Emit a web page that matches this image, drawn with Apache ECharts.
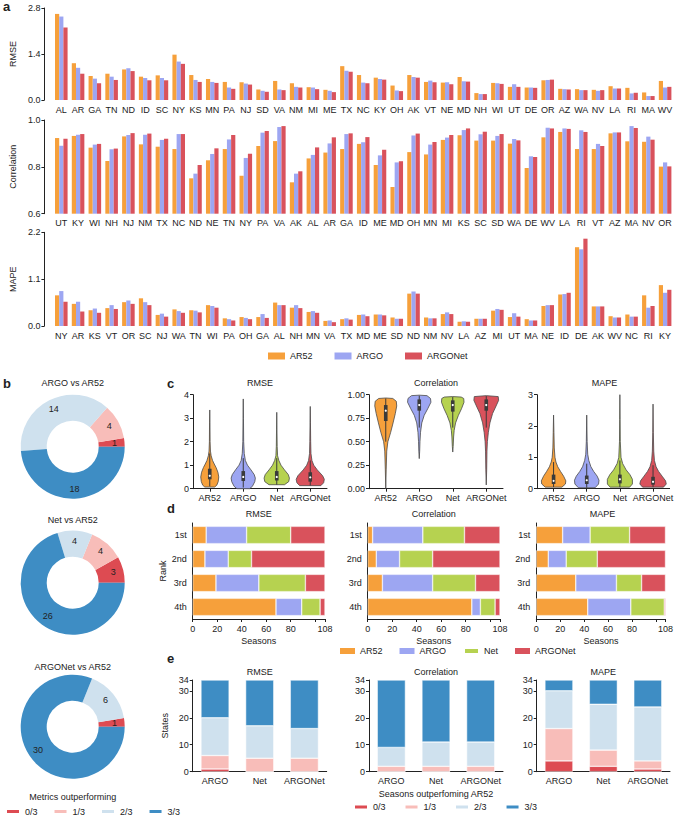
<!DOCTYPE html>
<html><head><meta charset="utf-8">
<script src="https://cdn.jsdelivr.net/npm/echarts@6/dist/echarts.min.js"></script>
<style>html,body{margin:0;padding:0;background:#fff}#c{width:676px;height:817px}</style>
</head><body><div id="c"></div>
<script>
// ---------- DATA ----------
const methods = ['AR52','ARGO','Net','ARGONet'];
const outcomeLevels = ['0/3','1/3','2/3','3/3'];

// panel a
const statesRMSE = ['AL','AR','GA','TN','ND','ID','SC','NY','KS','MN','PA','NJ','SD','VA','NM','MI','ME','TX','NC','KY','OH','AK','VT','NE','MD','NH','WI','UT','DE','OR','AZ','WA','NV','LA','RI','MA','WV'];
const rmseAR52    = [2.62,1.12,0.73,0.80,0.93,0.71,0.75,1.38,0.76,0.64,0.55,0.54,0.32,0.58,0.51,0.39,0.31,1.03,0.76,0.68,0.44,0.76,0.55,0.53,0.70,0.21,0.52,0.40,0.38,0.60,0.34,0.33,0.31,0.42,0.37,0.23,0.58];
const rmseARGO    = [2.54,0.98,0.65,0.71,0.97,0.67,0.67,1.17,0.61,0.55,0.38,0.50,0.28,0.32,0.40,0.38,0.28,0.89,0.53,0.64,0.29,0.70,0.59,0.54,0.57,0.18,0.51,0.48,0.38,0.61,0.33,0.30,0.28,0.35,0.20,0.12,0.38];
const rmseARGONet = [2.21,0.80,0.51,0.61,0.88,0.60,0.60,1.10,0.55,0.52,0.34,0.47,0.25,0.30,0.38,0.33,0.24,0.86,0.51,0.62,0.27,0.68,0.54,0.48,0.56,0.18,0.49,0.40,0.37,0.62,0.32,0.30,0.30,0.35,0.22,0.12,0.40];

const statesCorr = ['UT','KY','WI','NH','NJ','NM','TX','NC','ND','NE','TN','NY','PA','VA','AK','AL','AR','GA','ID','ME','MD','OH','MN','MI','KS','SC','SD','WA','DE','WV','LA','RI','VT','AZ','MA','NV','OR'];
const corrAR52    = [0.923,0.932,0.882,0.825,0.930,0.896,0.886,0.876,0.751,0.828,0.876,0.762,0.889,0.910,0.734,0.836,0.861,0.876,0.898,0.808,0.714,0.863,0.853,0.915,0.935,0.912,0.912,0.899,0.795,0.926,0.949,0.876,0.876,0.943,0.909,0.907,0.801];
const corrARGO    = [0.890,0.937,0.895,0.875,0.936,0.937,0.915,0.940,0.771,0.855,0.917,0.838,0.946,0.970,0.771,0.851,0.900,0.940,0.905,0.849,0.819,0.934,0.895,0.925,0.957,0.939,0.932,0.919,0.845,0.967,0.964,0.956,0.898,0.947,0.974,0.929,0.819];
const corrARGONet = [0.920,0.940,0.898,0.878,0.944,0.942,0.920,0.940,0.808,0.879,0.936,0.856,0.953,0.974,0.781,0.883,0.926,0.943,0.927,0.873,0.824,0.942,0.906,0.936,0.964,0.950,0.940,0.913,0.842,0.964,0.962,0.949,0.889,0.947,0.966,0.916,0.802];

const statesMAPE = ['NY','AR','KS','VT','OR','SC','NJ','WA','TN','WI','PA','OH','GA','AL','NH','MN','VA','TX','MD','ME','SD','ND','NM','NV','LA','AZ','MI','UT','MA','NE','ID','DE','AK','WV','NC','RI','KY'];
const mapeAR52    = [0.72,0.52,0.37,0.42,0.56,0.65,0.26,0.39,0.37,0.49,0.18,0.21,0.21,0.55,0.43,0.33,0.12,0.16,0.26,0.27,0.20,0.76,0.20,0.28,0.10,0.17,0.36,0.21,0.16,0.47,0.74,1.85,0.46,0.23,0.27,0.72,0.96];
const mapeARGO    = [0.82,0.57,0.41,0.49,0.60,0.56,0.29,0.35,0.36,0.47,0.16,0.19,0.28,0.49,0.49,0.35,0.13,0.18,0.27,0.27,0.17,0.81,0.18,0.32,0.11,0.17,0.40,0.30,0.13,0.49,0.75,1.80,0.46,0.20,0.22,0.43,0.78];
const mapeARGONet = [0.57,0.34,0.31,0.40,0.52,0.49,0.22,0.31,0.32,0.43,0.13,0.16,0.19,0.49,0.42,0.31,0.09,0.15,0.23,0.25,0.17,0.76,0.18,0.28,0.10,0.17,0.38,0.22,0.13,0.49,0.78,2.05,0.46,0.20,0.22,0.47,0.85];

// panel b (counts of states per outcome level 0/3..3/3)
const donutARGO    = [1,4,14,18];
const donutNet     = [3,4,4,26];
const donutARGONet = [1,0,6,30];

// panel c violin profiles: [value, relative half-width], per method
const violinRMSE = [
  [[0.07,0],[0.07,0.35],[0.15,0.5],[0.3,0.6],[0.5,0.64],[0.7,0.58],[0.9,0.45],[1.05,0.32],[1.2,0.2],[1.4,0.1],[1.6,0.05],[2.0,0.025],[2.8,0.015],[3.35,0]],
  [[0.0,0],[0.0,0.45],[0.1,0.65],[0.3,0.82],[0.45,0.86],[0.6,0.78],[0.8,0.55],[1.0,0.3],[1.2,0.15],[1.5,0.07],[2.0,0.03],[3.0,0.015],[3.82,0]],
  [[0.17,0],[0.17,0.55],[0.3,0.85],[0.45,0.9],[0.6,0.82],[0.8,0.55],[1.0,0.3],[1.2,0.15],[1.4,0.06],[1.8,0.03],[2.5,0.015],[3.25,0]],
  [[0.13,0],[0.13,0.75],[0.25,0.95],[0.4,1.0],[0.55,0.88],[0.8,0.5],[1.0,0.25],[1.2,0.12],[1.5,0.05],[2.0,0.03],[2.8,0.015],[3.5,0]]
];
const violinCorr = [
  [[0.0,0],[0.2,0.03],[0.4,0.07],[0.5,0.15],[0.6,0.35],[0.7,0.52],[0.8,0.68],[0.88,0.78],[0.93,0.75],[0.96,0.5],[0.965,0]],
  [[0.32,0],[0.4,0.03],[0.5,0.05],[0.6,0.09],[0.7,0.18],[0.78,0.35],[0.85,0.6],[0.92,0.83],[0.96,0.8],[0.99,0.55],[0.995,0]],
  [[0.39,0],[0.45,0.03],[0.55,0.06],[0.62,0.1],[0.7,0.2],[0.78,0.4],[0.85,0.62],[0.92,0.8],[0.96,0.78],[0.975,0.6],[0.98,0]],
  [[0.04,0],[0.2,0.03],[0.4,0.05],[0.5,0.08],[0.6,0.15],[0.7,0.26],[0.8,0.45],[0.88,0.7],[0.94,0.88],[0.98,0.85],[0.99,0]]
];
const violinMAPE = [
  [[0.05,0],[0.05,0.6],[0.15,0.85],[0.25,0.88],[0.4,0.72],[0.55,0.5],[0.7,0.3],[0.85,0.17],[1.0,0.1],[1.3,0.05],[1.8,0.025],[2.35,0]],
  [[0.03,0],[0.03,0.6],[0.15,0.85],[0.27,0.88],[0.4,0.75],[0.55,0.5],[0.7,0.3],[0.9,0.15],[1.1,0.07],[1.5,0.03],[2.35,0]],
  [[0.05,0],[0.05,0.7],[0.15,0.9],[0.3,0.9],[0.45,0.72],[0.6,0.45],[0.8,0.2],[1.0,0.08],[1.5,0.03],[2.2,0.015],[3.0,0]],
  [[0.05,0],[0.05,0.75],[0.15,0.95],[0.25,0.9],[0.4,0.65],[0.55,0.4],[0.7,0.22],[0.9,0.1],[1.2,0.05],[1.8,0.02],[2.7,0]]
];
// box stats: [whiskerLow, q1, median, q3, whiskerHigh]
const boxRMSE = [[0.1,0.4,0.55,0.85,1.5],[0.05,0.33,0.5,0.75,1.3],[0.17,0.35,0.5,0.75,1.3],[0.13,0.3,0.48,0.7,1.2]];
const boxCorr = [[0.5,0.72,0.83,0.89,0.96],[0.65,0.83,0.89,0.95,0.99],[0.65,0.82,0.89,0.94,0.975],[0.65,0.83,0.89,0.95,0.985]];
const boxMAPE = [[0.05,0.15,0.25,0.45,0.85],[0.03,0.15,0.27,0.42,0.8],[0.05,0.17,0.3,0.45,0.9],[0.05,0.13,0.22,0.38,0.75]];

// panel d: seasons per rank (1st..4th), one row per method
const ranks = ['1st','2nd','3rd','4th'];
const rankRMSE = [[11,10,19,68],[33,19,35,21],[36,19,38,15],[28,60,16,4]];
const rankCorr = [[4,7,12,85],[41,19,41,7],[34,27,35,12],[29,55,20,4]];
const rankMAPE = [[22,10,33,43],[23,15,34,36],[33,26,21,28],[30,57,20,1]];
const seasonTicks = [0,20,40,60,80,100,108];
const seasonLabels = [0,20,40,60,80,108];

// panel e: states per outcome level (rows 0/3..3/3), columns ARGO, Net, ARGONet
const eMethods = ['ARGO','Net','ARGONet'];
const stateRMSE = [[1,0,0],[5,5,5],[14,12,11],[14,17,18]];
const stateCorr = [[0,0,0],[2,2,2],[7,9,9],[25,23,23]];
const stateMAPE = [[4,2,1],[12,6,3],[14,17,20],[4,9,10]];
const stateTicks = [0,10,20,30,34];

// ---------- STYLE ----------
const FONT = '"Liberation Sans", Arial, Helvetica, sans-serif';
const COL = {AR52:'#F6A03B', ARGO:'#9DA6F2', Net:'#B6D250', ARGONet:'#D9525C'};
const OUTC = ['#DD4B52','#F8BDB9','#CFE1EE','#3E8DC4'];
const TXT = '#222';
const lbl = {fontSize:9, color:TXT, fontFamily:FONT};
const axLine = {show:true, lineStyle:{color:'#222', width:1}};
const axTick = {show:true, length:3, lineStyle:{color:'#222', width:1}};

const grid = [], xAxis = [], yAxis = [], series = [], graphic = [];

function txt(text, x, y, size, bold, align, rot){
  return {type:'text', x:x, y:y, rotation: rot||0, silent:true,
    style:{text:text, fill:TXT, font:(bold?'bold ':'')+(size||9)+'px '+FONT,
      textAlign:align||'center', textVerticalAlign:'middle'}};
}

// ---------- PANEL a ----------
const aPanels = [
  {states:statesRMSE, vals:[rmseAR52,rmseARGO,rmseARGONet], top:8, h:92, min:0, max:2.8, iv:1.4, name:'RMSE', dec:1},
  {states:statesCorr, vals:[corrAR52,corrARGO,corrARGONet], top:120, h:93.7, min:0.6, max:1.0, iv:0.2, name:'Correlation', dec:1},
  {states:statesMAPE, vals:[mapeAR52,mapeARGO,mapeARGONet], top:232.3, h:93.7, min:0, max:2.2, iv:1.1, name:'MAPE', dec:1}
];
const aNames = ['AR52','ARGO','ARGONet'];
aPanels.forEach((p,k)=>{
  const gi = grid.length;
  grid.push({left:48.5, top:p.top, width:625, height:p.h});
  xAxis.push({type:'category', gridIndex:gi, data:p.states, axisLine:{show:false}, axisTick:{show:false},
    axisLabel:Object.assign({interval:0, margin:5}, lbl)});
  yAxis.push({type:'value', gridIndex:gi, min:p.min, max:p.max, interval:p.iv, offset:8.5,
    axisLine:axLine, axisTick:axTick, splitLine:{show:false},
    axisLabel:Object.assign({formatter:v=>v.toFixed(p.dec), margin:4}, lbl),
    name:p.name, nameLocation:'middle', nameGap:22, nameTextStyle:lbl});
  p.vals.forEach((arr,j)=>{
    series.push({type:'bar', name:aNames[j], xAxisIndex:gi, yAxisIndex:gi, data:arr,
      barGap:'0%', barCategoryGap:'25%', itemStyle:{color:COL[aNames[j]]}, emphasis:{disabled:true}});
  });
});

// ---------- PANEL b ----------
const bPanels = [
  {title:'ARGO vs AR52', data:donutARGO, cy:446.7, ty:383},
  {title:'Net vs AR52', data:donutNet, cy:582.7, ty:520},
  {title:'ARGONet vs AR52', data:donutARGONet, cy:726.7, ty:667}
];
bPanels.forEach(p=>{
  series.push({type:'pie', center:[72.7,p.cy], radius:[26,52], startAngle:0, clockwise:false,
    avoidLabelOverlap:false, emphasis:{disabled:true},
    label:{show:true, position:'inside', fontSize:9, color:TXT, fontFamily:FONT,
      formatter:q=>q.value? String(q.value):''},
    labelLine:{show:false},
    data:p.data.map((v,i)=>({name:outcomeLevels[i], value:v, itemStyle:{color:OUTC[i]}}))});
  graphic.push(txt(p.title, 72.7, p.ty, 9));
});
graphic.push(txt('Metrics outperforming', 72.7, 797, 9));

// ---------- PANEL c ----------
function violinRender(profiles, boxes, color){
  return function(params, api){
    const i = api.value(0);
    const prof = profiles[i], b = boxes[i];
    const band = api.size([1,0])[0];
    const hw = band*0.42;
    const cx = api.coord([i,0])[0];
    const yc = v => api.coord([i,v])[1];
    const pts = prof.map(p=>[cx+p[1]*hw, yc(p[0])])
      .concat(prof.slice().reverse().map(p=>[cx-p[1]*hw, yc(p[0])]));
    return {type:'group', children:[
      {type:'polygon', shape:{points:pts}, style:{fill:color[i], stroke:'#4a4a4a', lineWidth:0.8}},
      {type:'line', shape:{x1:cx,y1:yc(b[0]),x2:cx,y2:yc(b[4])}, style:{stroke:'#3a3a3a', lineWidth:1}},
      {type:'rect', shape:{x:cx-1.8, y:yc(b[3]), width:3.6, height:yc(b[1])-yc(b[3])}, style:{fill:'#3a3a3a'}},
      {type:'circle', shape:{cx:cx, cy:yc(b[2]), r:1.1}, style:{fill:'#fff'}}
    ]};
  };
}
const cPanels = [
  {title:'RMSE', left:193, w:134, prof:violinRMSE, box:boxRMSE, max:4, iv:1, dec:0},
  {title:'Correlation', left:369, w:134, prof:violinCorr, box:boxCorr, max:1, iv:0.25, dec:2},
  {title:'MAPE', left:537, w:135, prof:violinMAPE, box:boxMAPE, max:3, iv:1, dec:0}
];
const methodColors = methods.map(m=>COL[m]);
cPanels.forEach(p=>{
  const gi = grid.length;
  grid.push({left:p.left, top:394.7, width:p.w, height:94});
  xAxis.push({type:'category', gridIndex:gi, data:methods, axisLine:axLine,
    axisTick:Object.assign({alignWithLabel:true}, axTick), axisLabel:Object.assign({margin:5, interval:0}, lbl)});
  yAxis.push({type:'value', gridIndex:gi, min:0, max:p.max, interval:p.iv, axisLine:axLine, axisTick:axTick,
    splitLine:{show:false}, axisLabel:Object.assign({formatter:v=>v.toFixed(p.dec), margin:4}, lbl)});
  series.push({type:'custom', xAxisIndex:gi, yAxisIndex:gi, clip:false,
    renderItem:violinRender(p.prof, p.box, methodColors),
    encode:{x:0, y:1},
    data:p.box.map((b,i)=>[i, b[2]])});
  graphic.push(txt(p.title, p.left+p.w/2, 383, 9));
});

// ---------- PANEL d ----------
const dPanels = [
  {title:'RMSE', left:192.7, w:132.3, data:rankRMSE},
  {title:'Correlation', left:367.7, w:132.3, data:rankCorr},
  {title:'MAPE', left:536.3, w:132.4, data:rankMAPE}
];
dPanels.forEach((p,k)=>{
  const gi = grid.length;
  grid.push({left:p.left, top:523, width:p.w, height:96});
  xAxis.push({type:'value', gridIndex:gi, min:0, max:108, axisLine:axLine,
    axisTick:Object.assign({customValues:seasonTicks}, axTick), splitLine:{show:false},
    axisLabel:Object.assign({customValues:seasonLabels, margin:5}, lbl),
    name:'Seasons', nameLocation:'middle', nameGap:17, nameTextStyle:lbl});
  yAxis.push(Object.assign({type:'category', gridIndex:gi, data:ranks, inverse:true, axisLine:axLine,
    axisTick:{show:false}, axisLabel:Object.assign({margin:6}, lbl)},
    k===0 ? {name:'Rank', nameLocation:'middle', nameGap:24, nameTextStyle:lbl} : {}));
  p.data.forEach((arr,j)=>{
    series.push({type:'bar', name:methods[j], xAxisIndex:gi, yAxisIndex:gi, stack:'d'+k, data:arr,
      barCategoryGap:'28%', itemStyle:{color:COL[methods[j]], borderColor:'#fff', borderWidth:0.5},
      emphasis:{disabled:true}});
  });
  graphic.push(txt(p.title, p.left+p.w/2, 514, 9));
});

// ---------- PANEL e ----------
const ePanels = [
  {title:'RMSE', left:192.7, w:134, data:stateRMSE},
  {title:'Correlation', left:369, w:134, data:stateCorr},
  {title:'MAPE', left:536.7, w:133.3, data:stateMAPE}
];
ePanels.forEach((p,k)=>{
  const gi = grid.length;
  grid.push({left:p.left, top:680, width:p.w, height:91.7});
  xAxis.push({type:'category', gridIndex:gi, data:eMethods, axisLine:axLine, axisTick:{show:false},
    axisLabel:Object.assign({margin:5, interval:0}, lbl)});
  yAxis.push(Object.assign({type:'value', gridIndex:gi, min:0, max:34, axisLine:axLine,
    axisTick:Object.assign({customValues:stateTicks}, axTick), splitLine:{show:false},
    axisLabel:Object.assign({customValues:stateTicks, margin:4}, lbl)},
    k===0 ? {name:'States', nameLocation:'middle', nameGap:23, nameTextStyle:lbl} : {}));
  p.data.forEach((arr,j)=>{
    series.push({type:'bar', name:outcomeLevels[j], xAxisIndex:gi, yAxisIndex:gi, stack:'e'+k, data:arr,
      barCategoryGap:'37%', itemStyle:{color:OUTC[j], borderColor:'#fff', borderWidth:0.5},
      emphasis:{disabled:true}});
  });
  graphic.push(txt(p.title, p.left+p.w/2, 672, 9));
});
graphic.push(txt('Seasons outperfoming AR52', 436, 794, 9));

// panel letters
[['a',3,6],['b',3,383],['c',167,383],['d',167,508],['e',167,658]].forEach(l=>{
  graphic.push(txt(l[0], l[1], l[2], 13, true, 'left'));
});

const legText = {fontSize:9, color:TXT, fontFamily:FONT};
const legend = [
  {data:['AR52','ARGO','ARGONet'], left:268, top:351.5, padding:0, icon:'rect', itemWidth:17, itemHeight:7, itemGap:22, textStyle:legText, selectedMode:false},
  {data:methods, left:340, top:646.5, padding:0, icon:'rect', itemWidth:15, itemHeight:6, itemGap:17, textStyle:legText, selectedMode:false},
  {data:outcomeLevels, left:5, top:807, padding:0, icon:'rect', itemWidth:14, itemHeight:5, itemGap:15, textStyle:legText, selectedMode:false},
  {data:outcomeLevels, left:353, top:802.5, padding:0, icon:'rect', itemWidth:14, itemHeight:5, itemGap:18, textStyle:legText, selectedMode:false}
];

const chart = echarts.init(document.getElementById('c'), null, {renderer:'svg', width:676, height:817});
chart.setOption({animation:false, backgroundColor:'#fff', textStyle:{fontFamily:FONT},
  grid, xAxis, yAxis, series, legend, graphic, tooltip:{show:false}});
</script></body></html>
